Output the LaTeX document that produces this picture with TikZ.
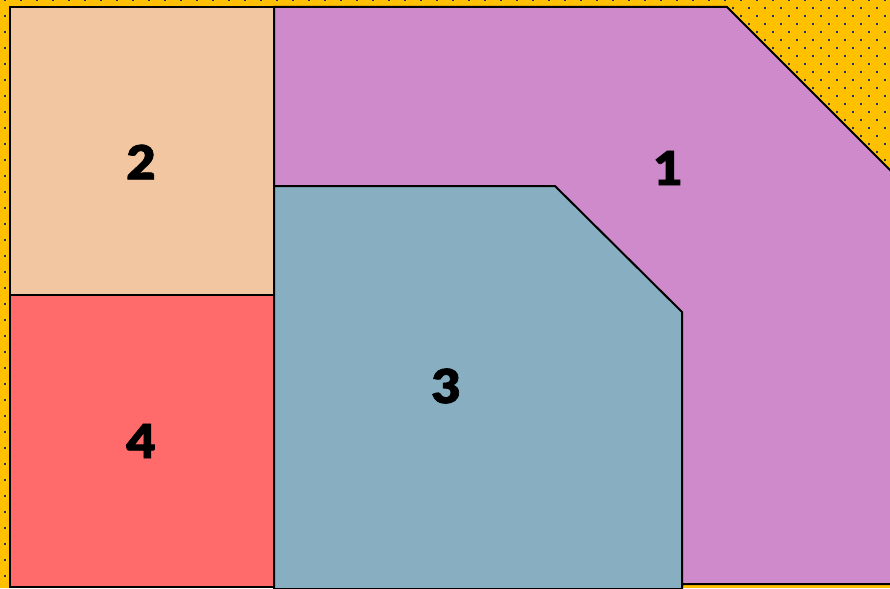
\documentclass[tikz,border=0pt]{standalone}
\usepackage{fontspec}
\setmainfont{Liberation Sans}
\newfontfamily\numfont{Lato Black}[FakeBold=1.5,FakeStretch=1.08]
\definecolor{gold}{HTML}{FFC000}
\definecolor{dotc}{HTML}{1F3864}
\definecolor{cone}{HTML}{CE8ACB}
\definecolor{ctwo}{HTML}{F2C6A0}
\definecolor{cthree}{HTML}{87AFC1}
\definecolor{cfour}{HTML}{FF6B6B}
\begin{document}
\begin{tikzpicture}[x=1pt,y=-1pt,
  region/.style={draw=black,line width=2pt,line join=miter},
  num/.style={font=\fontsize{47}{47}\numfont,inner sep=0pt}]
\useasboundingbox (0,0) rectangle (890,588);
\fill[gold] (0,0) rectangle (890,588);
\begin{scope}
\clip (0,0) rectangle (890,588);
\foreach \i in {0,...,74}{
  \pgfmathsetmacro{\yy}{8*\i}
  \pgfmathsetmacro{\xo}{5+8*mod(\i,2)}
  \foreach \j in {0,...,56}{
    \fill[dotc] (\xo+16*\j-1,\yy-1) rectangle ++(2,2);
  }
}
\end{scope}
\path[region,fill=cone] (274,7) -- (727,7) -- (891,171) -- (891,584) -- (682,584) -- (682,587) -- (274,587) -- cycle;
\path[region,fill=ctwo] (10,7) rectangle (274,295);
\path[region,fill=cfour] (10,295) rectangle (274,587);
\path[region,fill=cthree] (274,186) -- (555,186) -- (682,312) -- (682,589) -- (274,589) -- cycle;
\node[num] (n1) at (668,168) {1};
\node[num] (n2) at (141,162) {2};
\node[num] (n3) at (446,386) {3};
\node[num] (n4) at (141,441) {4};
\end{tikzpicture}
\end{document}
